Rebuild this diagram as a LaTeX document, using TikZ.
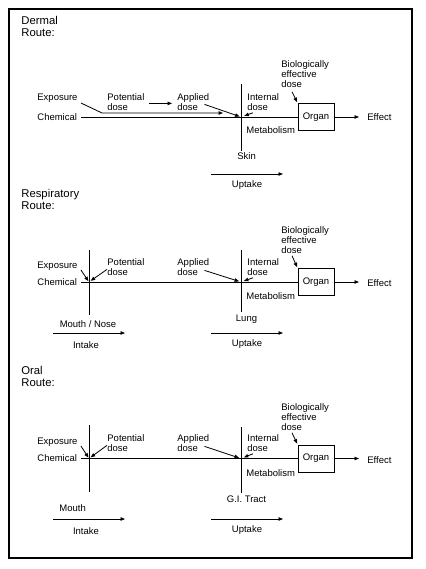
\documentclass[tikz,border=0pt]{standalone}
\usepackage{fontspec}
\setmainfont{Liberation Sans}
\usetikzlibrary{arrows.meta,calc}
\begin{document}
\begin{tikzpicture}[x=1pt,y=-1pt,
  line width=0.8pt,
  lb/.style={inner sep=0pt,font=\fontsize{9.5}{10}\selectfont},
  lb2/.style={lb,anchor=north west,align=left},
  ttl/.style={inner sep=0pt,anchor=north west,align=left,font=\fontsize{11.3}{12}\selectfont},
  organ/.style={draw,line width=0.9pt,minimum width=36pt,minimum height=27pt,inner sep=0pt,font=\fontsize{9.5}{10}\selectfont},
  arr/.style={-{Triangle[length=4.5pt,width=3.5pt]}},
  frame/.style={draw,line width=1.1pt}]
\useasboundingbox (0,0) rectangle (425,569);
\draw[frame] (9,9) rectangle (412,558);

% ---------------- Dermal ----------------
\node[ttl] (dt) at (21,15.5) {Dermal\\Route:};
\node[lb,anchor=west] (dexp) at (37,98) {Exposure};
\node[lb,anchor=west] (dchem) at (37,117) {Chemical};
\node[lb2] (dpot) at (107,93.5) {Potential\\dose};
\node[lb2] (dapp) at (177,93.5) {Applied\\dose};
\node[lb2] (dint) at (247,93.5) {Internal\\dose};
\node[lb2] (dbio) at (281,60.5) {Biologically\\effective\\dose};
\node[organ] (dorg) at (316,117) {Organ};
\node[lb,anchor=west] (deff) at (367,117) {Effect};
\node[lb,anchor=west] (dmet) at (246,130) {Metabolism};
\node[lb,anchor=west] (dskin) at (237,156) {Skin};
\node[lb,anchor=north] (dupt) at (247,180.5) {Uptake};
\coordinate (dsk1) at (241,84);
\coordinate (dsk2) at (241,151);
\coordinate (dj) at (241,117);
\coordinate (dex1) at (102,113);
\coordinate (dex2) at (223,113);
\coordinate (du1) at (211,174);
\coordinate (du2) at (283,174);
\draw (dsk1) -- (dsk2);
\draw ($(dchem.east)+(4,0)$) -- (dorg.west);
\draw[arr] (dorg.east) -- ($(deff.west)+(-8,0)$);
\draw[arr] ($(dexp.east)+(3,5)$) -- (dex1) -- (dex2);
\draw[arr] ($(dpot.east)+(4,1)$) -- ($(dapp.west)+(-5,1)$);
\draw[arr,shorten >=1.5pt] ($(dapp.east)+(-5,2)$) -- (dj);
\draw[arr,shorten >=3.5pt] ($(dint.south west)+(6,1.5)$) -- (dj);
\draw[arr,shorten >=1pt] ($(dbio.south west)+(11,3.5)$) -- (dorg.north west);
\draw[arr] (du1) -- (du2);

% ---------------- Respiratory ----------------
\node[ttl] (rt) at (21,188.5) {Respiratory\\Route:};
\node[lb,anchor=west] (rexp) at (37,266) {Exposure};
\node[lb,anchor=west] (rchem) at (37,282) {Chemical};
\node[lb2] (rpot) at (107,258.5) {Potential\\dose};
\node[lb2] (rapp) at (177,258.5) {Applied\\dose};
\node[lb2] (rint) at (247,258.5) {Internal\\dose};
\node[lb2] (rbio) at (281,226.5) {Biologically\\effective\\dose};
\node[organ] (rorg) at (316,282) {Organ};
\node[lb,anchor=west] (reff) at (367,283) {Effect};
\node[lb,anchor=west] (rmet) at (246,296) {Metabolism};
\node[lb,anchor=north] (rlung) at (246.5,314.5) {Lung};
\node[lb,anchor=north] (rmouth) at (88,320.5) {Mouth / Nose};
\node[lb,anchor=north] (rint2) at (86,341.5) {Intake};
\node[lb,anchor=north] (rupt) at (247,339.5) {Uptake};
\coordinate (rv1a) at (89,250);
\coordinate (rv1b) at (89,315);
\coordinate (rv2a) at (241,250);
\coordinate (rv2b) at (241,312);
\coordinate (rj1) at (89,282);
\coordinate (rj2) at (241,282);
\coordinate (ri1) at (53,333);
\coordinate (ri2) at (125,333);
\coordinate (ru1) at (211,333);
\coordinate (ru2) at (283,333);
\draw (rv1a) -- (rv1b);
\draw (rv2a) -- (rv2b);
\draw ($(rchem.east)+(4,0)$) -- (rorg.west);
\draw[arr] (rorg.east) -- ($(reff.west)+(-8,-1)$);
\draw[arr,shorten >=1pt] ($(rexp.east)+(3,4)$) -- (rj1);
\draw[arr,shorten >=2pt] ($(rpot.west)+(0,2)$) -- (rj1);
\draw[arr,shorten >=2pt] ($(rapp.east)+(-5,3)$) -- (rj2);
\draw[arr,shorten >=3pt] ($(rint.south west)+(6,1.5)$) -- (rj2);
\draw[arr,shorten >=1pt] ($(rbio.south west)+(11,1.5)$) -- (rorg.north west);
\draw[arr] (ri1) -- (ri2);
\draw[arr] (ru1) -- (ru2);

% ---------------- Oral ----------------
\node[ttl] (ot) at (21,365.5) {Oral\\Route:};
\node[lb,anchor=west] (oexp) at (37,442) {Exposure};
\node[lb,anchor=west] (ochem) at (37,458) {Chemical};
\node[lb2] (opot) at (107,434.5) {Potential\\dose};
\node[lb2] (oapp) at (177,434.5) {Applied\\dose};
\node[lb2] (oint) at (247,434.5) {Internal\\dose};
\node[lb2] (obio) at (281,403.5) {Biologically\\effective\\dose};
\node[organ] (oorg) at (316,458.5) {Organ};
\node[lb,anchor=west] (oeff) at (367,460) {Effect};
\node[lb,anchor=west] (omet) at (246,473) {Metabolism};
\node[lb,anchor=north] (ogi) at (246.5,495.5) {G.I. Tract};
\node[lb,anchor=west] (omouth) at (59,508) {Mouth};
\node[lb,anchor=north] (oint2) at (86,527.5) {Intake};
\node[lb,anchor=north] (oupt) at (247,525.5) {Uptake};
\coordinate (ov1a) at (89,425);
\coordinate (ov1b) at (89,492);
\coordinate (ov2a) at (241,427);
\coordinate (ov2b) at (241,493);
\coordinate (oj1) at (89,458.5);
\coordinate (oj2) at (241,458.5);
\coordinate (oi1) at (53,519);
\coordinate (oi2) at (125,519);
\coordinate (ou1) at (211,519);
\coordinate (ou2) at (283,519);
\draw (ov1a) -- (ov1b);
\draw (ov2a) -- (ov2b);
\draw ($(ochem.east)+(4,0.5)$) -- (oorg.west);
\draw[arr] (oorg.east) -- ($(oeff.west)+(-8,-1.5)$);
\draw[arr,shorten >=1pt] ($(oexp.east)+(3,4)$) -- (oj1);
\draw[arr,shorten >=2pt] ($(opot.west)+(0,2)$) -- (oj1);
\draw[arr,shorten >=2pt] ($(oapp.east)+(-5,3)$) -- (oj2);
\draw[arr,shorten >=3pt] ($(oint.south west)+(6,1.5)$) -- (oj2);
\draw[arr,shorten >=1pt] ($(obio.south west)+(11,1.5)$) -- (oorg.north west);
\draw[arr] (oi1) -- (oi2);
\draw[arr] (ou1) -- (ou2);
\end{tikzpicture}
\end{document}
